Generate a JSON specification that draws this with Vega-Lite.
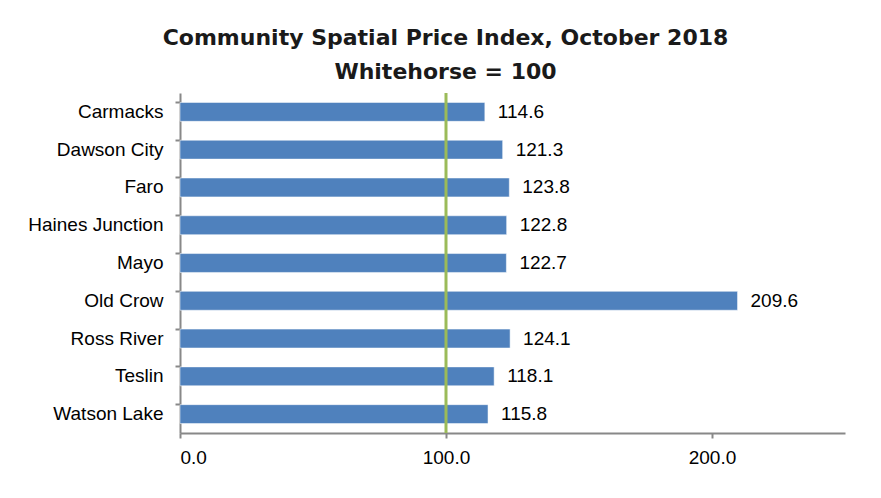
{
  "$schema": "https://vega.github.io/schema/vega-lite/v6.json",
  "width": 665,
  "height": 340,
  "autosize": {"type": "none"},
  "padding": {"left": 180, "top": 93, "right": 36, "bottom": 65},
  "background": "white",
  "title": {
    "text": ["Community Spatial Price Index, October 2018", "Whitehorse = 100"],
    "font": "DejaVu Sans",
    "fontWeight": "bold",
    "fontSize": 22,
    "color": "#1a1a1a",
    "lineHeight": 34,
    "anchor": "middle",
    "frame": "group",
    "dx": -67,
    "offset": 8
  },
  "data": {
    "values": [
      {"community": "Carmacks", "index": 114.6},
      {"community": "Dawson City", "index": 121.3},
      {"community": "Faro", "index": 123.8},
      {"community": "Haines Junction", "index": 122.8},
      {"community": "Mayo", "index": 122.7},
      {"community": "Old Crow", "index": 209.6},
      {"community": "Ross River", "index": 124.1},
      {"community": "Teslin", "index": 118.1},
      {"community": "Watson Lake", "index": 115.8}
    ]
  },
  "encoding": {
    "y": {
      "field": "community",
      "type": "nominal",
      "sort": null,
      "title": null,
      "scale": {"paddingInner": 0.5, "paddingOuter": 0.25},
      "axis": {
        "domainColor": "#888888",
        "domainWidth": 2,
        "tickColor": "#888888",
        "tickWidth": 2,
        "tickSize": 5,
        "bandPosition": 0,
        "labelFont": "Liberation Sans",
        "labelFontSize": 19,
        "labelColor": "#000000",
        "labelPadding": 12
      }
    }
  },
  "layer": [
    {
      "mark": {"type": "bar", "color": "#4F81BD", "stroke": "#ffffff", "strokeWidth": 0.5},
      "encoding": {
        "x": {
          "field": "index",
          "type": "quantitative",
          "title": null,
          "scale": {"domain": [0, 250], "nice": false},
          "axis": {
            "values": [0, 100, 200],
            "format": ".1f",
            "grid": false,
            "domainColor": "#888888",
            "domainWidth": 2,
            "tickColor": "#888888",
            "tickWidth": 2,
            "tickSize": 5,
            "labelFont": "Liberation Sans",
            "labelFontSize": 19,
            "labelColor": "#000000",
            "labelPadding": 10
          }
        }
      }
    },
    {
      "data": {"values": [{"ref": 100}]},
      "mark": {"type": "rule", "color": "#9BBB59", "strokeWidth": 3},
      "encoding": {
        "x": {"field": "ref", "type": "quantitative"},
        "y": null
      }
    },
    {
      "mark": {"type": "text", "align": "left", "dx": 13, "font": "Liberation Sans", "fontSize": 19, "color": "#000000"},
      "encoding": {
        "x": {"field": "index", "type": "quantitative"},
        "text": {"field": "index", "type": "quantitative", "format": ".1f"}
      }
    }
  ],
  "config": {"view": {"stroke": null}}
}
